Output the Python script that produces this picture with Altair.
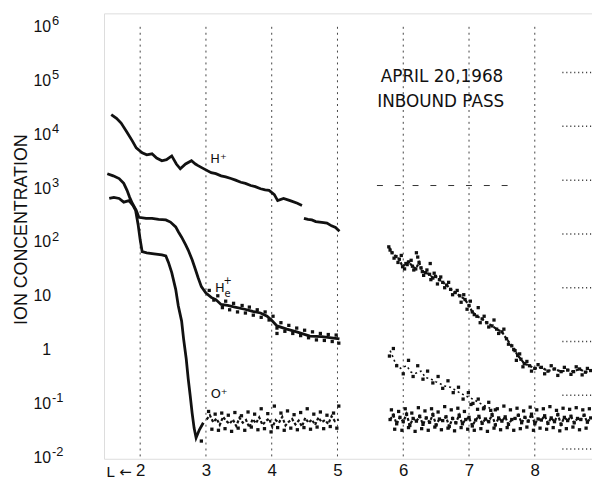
import altair as alt
import pandas as pd

FONT = "Liberation Sans"
NOTE_FONT = "DejaVu Sans"
INK = "#111111"

# ---- H+ (log10 concentration vs L) ----
HP1_L = [1.56,1.64,1.71,1.79,1.88,1.94,2.03,2.10,2.18,2.25,2.33,2.40,2.48,2.55,2.61,2.69,2.78,2.84,2.88,2.97,
         3.08,3.15,3.23,3.30,3.38,3.45,3.53,3.60,3.68,3.75,3.83,3.90,3.96,4.04,4.09,4.18,4.28,4.39,4.46]
HP1_LOG = [4.37,4.30,4.21,4.06,3.88,3.75,3.66,3.62,3.64,3.56,3.51,3.53,3.60,3.45,3.36,3.45,3.51,3.45,3.42,3.36,
           3.29,3.27,3.23,3.21,3.18,3.15,3.11,3.09,3.05,3.03,2.99,2.97,2.96,2.88,2.77,2.81,2.77,2.72,2.68]
HP2_L = [4.49,4.55,4.61,4.67,4.73,4.79,4.84,4.91,4.97,5.03]
HP2_LOG = [2.44,2.42,2.41,2.38,2.37,2.36,2.35,2.30,2.27,2.20]
HP3_L = [5.78,5.83,5.89,5.94,5.99,6.04,6.08,6.14,6.19,6.24,6.29,6.34,6.40,6.45,6.49,6.55,6.60,6.66,6.72,6.79,
         6.86,6.94,7.00,7.05,7.12,7.20,7.27,7.35,7.42,7.50,7.57,7.65,7.70,7.74,7.79,7.84,7.92,8.00,8.10,8.20,
         8.30,8.40,8.50,8.59,8.68,8.77,8.85]
HP3_LOG = [1.91,1.80,1.73,1.68,1.54,1.60,1.63,1.55,1.50,1.62,1.45,1.43,1.40,1.33,1.36,1.30,1.25,1.20,1.12,1.06,
           1.00,0.93,0.82,0.70,0.62,0.57,0.50,0.44,0.38,0.33,0.20,0.07,-0.02,-0.11,-0.18,-0.26,-0.30,-0.35,-0.33,-0.40,
           -0.36,-0.41,-0.38,-0.41,-0.36,-0.42,-0.39]
HP3S_L = [5.80,5.86,5.92,5.97,6.02,6.06,6.12,6.16,6.22,6.27,6.31,6.36,6.42,6.47,6.52,6.57,6.63,6.69,6.75,6.82,
          6.88,6.92,6.97,7.02,7.08,7.14,7.17,7.23,7.30,7.38,7.45,7.53,7.60,7.68,7.72,7.77,7.82,7.88,7.95,8.05,
          8.15,8.25,8.35,8.45,8.55,8.63,8.72,8.80,6.41,6.20]
HP3S_LOG = [1.85,1.70,1.62,1.75,1.50,1.58,1.66,1.48,1.72,1.52,1.38,1.48,1.30,1.42,1.22,1.35,1.15,1.25,1.02,1.10,
            0.88,1.02,0.75,0.90,0.65,0.78,0.50,0.62,0.42,0.55,0.30,0.38,0.10,0.00,-0.20,-0.08,-0.32,-0.22,-0.40,-0.28,
            -0.45,-0.30,-0.48,-0.33,-0.46,-0.32,-0.47,-0.35,1.60,1.80]

# ---- He+ ----
HE1_L = [1.50,1.59,1.68,1.75,1.80,1.84,1.88,1.94,1.98,2.09,2.18,2.28,2.39,2.46,2.54,2.58,2.63,2.69,2.73,2.79,
         2.84,2.88,2.93,3.00,3.08,3.15,3.23,3.33,3.44,3.59,3.71,3.83,3.93,4.01,4.08,4.23,4.38,4.58,4.76,4.91,5.03]
HE1_LOG = [3.27,3.23,3.18,3.09,2.96,2.83,2.72,2.59,2.46,2.44,2.44,2.42,2.41,2.37,2.28,2.19,2.09,1.95,1.85,1.67,
           1.49,1.34,1.17,1.05,0.97,0.93,0.84,0.82,0.79,0.75,0.71,0.68,0.62,0.53,0.44,0.38,0.33,0.25,0.24,0.22,0.20]
HE1S_L = [3.05,3.12,3.18,3.25,3.30,3.36,3.42,3.48,3.55,3.60,3.66,3.72,3.78,3.84,3.90,3.96,4.02,4.08,4.14,4.20,
          4.26,4.32,4.38,4.44,4.50,4.56,4.62,4.68,4.74,4.80,4.86,4.92,4.98,5.02,4.08]
HE1S_LOG = [1.10,0.92,1.00,0.78,0.90,0.74,0.86,0.70,0.82,0.68,0.79,0.64,0.74,0.60,0.70,0.55,0.62,0.40,0.50,0.34,
            0.45,0.30,0.40,0.26,0.36,0.22,0.33,0.18,0.30,0.17,0.28,0.15,0.27,0.12,0.30]
HE2_L = [5.80,5.83,5.88,5.96,6.05,6.12,6.19,6.27,6.34,6.41,6.50,6.57,6.64,6.72,6.80,6.87,6.95,7.02,7.09,7.17,7.25,7.32]
HE2_LOG = [-0.02,-0.10,-0.25,-0.35,-0.30,-0.42,-0.44,-0.40,-0.52,-0.54,-0.60,-0.64,-0.68,-0.70,-0.76,-0.81,-0.86,-0.90,-0.94,-1.00,-1.05,-1.09]
HE2S_L = [5.79,5.85,5.90,6.00,6.08,6.15,6.22,6.30,6.37,6.45,6.53,6.60,6.68,6.76,6.84,6.91,6.99,7.06,7.14,7.22,7.30,7.40]
HE2S_LOG = [-0.12,0.02,-0.30,-0.45,-0.20,-0.50,-0.30,-0.55,-0.40,-0.62,-0.50,-0.72,-0.58,-0.80,-0.70,-0.92,-0.80,-1.00,-0.92,-1.10,-0.98,-1.12]

# ---- O+ ----
OP1_L = [1.53,1.60,1.68,1.75,1.83,1.89,1.93,1.97,2.00,2.03,2.10,2.21,2.33,2.39,2.43,2.48,2.54,2.58,2.63,2.66,
         2.70,2.73,2.76,2.79,2.82,2.85,2.90,2.96]
OP1_LOG = [2.81,2.83,2.81,2.74,2.77,2.68,2.59,2.31,2.04,1.82,1.80,1.78,1.76,1.74,1.62,1.43,1.12,0.81,0.53,0.20,
           -0.17,-0.54,-0.85,-1.18,-1.46,-1.64,-1.49,-1.36]
OP2_L = [3.01,3.06,3.11,3.16,3.21,3.26,3.31,3.36,3.41,3.46,3.51,3.56,3.61,3.66,3.71,3.76,3.81,3.86,3.91,3.96,
         4.01,4.06,4.11,4.16,4.21,4.26,4.31,4.36,4.41,4.46,4.51,4.56,4.61,4.66,4.71,4.76,4.81,4.86,4.91,4.96,5.02]
OP2_LOG = [-1.30,-1.22,-1.35,-1.28,-1.40,-1.25,-1.33,-1.38,-1.30,-1.42,-1.27,-1.36,-1.31,-1.45,-1.29,-1.37,-1.26,-1.40,-1.33,-1.28,
           -1.44,-1.31,-1.36,-1.25,-1.41,-1.34,-1.29,-1.39,-1.32,-1.43,-1.27,-1.36,-1.30,-1.40,-1.26,-1.35,-1.31,-1.38,-1.24,-1.33,-1.30]
OP2S_L = [3.04,3.09,3.14,3.19,3.24,3.29,3.34,3.39,3.44,3.49,3.54,3.59,3.64,3.69,3.74,3.79,3.84,3.89,3.94,3.99,
          4.04,4.09,4.14,4.19,4.24,4.29,4.34,4.39,4.44,4.49,4.54,4.59,4.64,4.69,4.74,4.79,4.84,4.89,4.94,4.99,5.02,2.93]
OP2S_LOG = [-1.15,-1.48,-1.20,-1.50,-1.18,-1.47,-1.22,-1.52,-1.17,-1.46,-1.23,-1.50,-1.16,-1.44,-1.20,-1.49,-1.10,-1.47,-1.19,-1.53,
            -1.05,-1.45,-1.18,-1.50,-1.14,-1.46,-1.21,-1.49,-1.17,-1.45,-1.10,-1.48,-1.20,-1.44,-1.16,-1.47,-1.22,-1.43,-1.18,-1.46,-1.05,-1.70]
OP3_L = [5.80,5.85,5.90,5.95,6.00,6.05,6.10,6.15,6.20,6.25,6.30,6.35,6.40,6.45,6.50,6.55,6.60,6.65,6.70,6.75,
         6.80,6.85,6.90,6.95,7.00,7.05,7.10,7.15,7.20,7.25,7.30,7.35,7.40,7.45,7.50,7.55,7.60,7.65,7.70,7.75,
         7.80,7.85,7.90,7.95,8.00,8.05,8.10,8.15,8.20,8.25,8.30,8.35,8.40,8.45,8.50,8.55,8.60,8.65,8.70,8.75,8.80,8.85]
OP3_LOG = [-1.30,-1.22,-1.38,-1.26,-1.34,-1.20,-1.41,-1.28,-1.33,-1.24,-1.39,-1.27,-1.35,-1.21,-1.40,-1.29,-1.32,-1.25,-1.43,-1.28,
           -1.36,-1.22,-1.38,-1.30,-1.26,-1.42,-1.31,-1.24,-1.37,-1.29,-1.34,-1.21,-1.40,-1.27,-1.33,-1.25,-1.39,-1.30,-1.28,-1.22,
           -1.36,-1.26,-1.33,-1.20,-1.38,-1.29,-1.31,-1.23,-1.37,-1.27,-1.34,-1.21,-1.39,-1.26,-1.32,-1.24,-1.36,-1.28,-1.30,-1.22,-1.35,-1.27]
OP3S_L = [5.82,5.87,5.93,5.98,6.03,6.08,6.13,6.18,6.23,6.28,6.33,6.38,6.43,6.48,6.53,6.58,6.63,6.68,6.73,6.78,
          6.83,6.88,6.93,6.98,7.03,7.08,7.13,7.18,7.23,7.28,7.33,7.38,7.43,7.48,7.53,7.58,7.63,7.68,7.73,7.78,
          7.83,7.88,7.93,7.98,8.03,8.08,8.13,8.18,8.23,8.28,8.33,8.38,8.43,8.48,8.53,8.58,8.63,8.68,8.73,8.78,8.83]
OP3S_LOG = [-1.12,-1.48,-1.15,-1.50,-1.10,-1.45,-1.18,-1.52,-1.08,-1.47,-1.14,-1.50,-1.10,-1.44,-1.16,-1.49,-1.06,-1.46,-1.12,-1.51,
            -1.09,-1.45,-1.15,-1.48,-1.02,-1.50,-1.11,-1.47,-1.08,-1.52,-1.13,-1.46,-1.10,-1.49,-1.05,-1.45,-1.12,-1.50,-1.09,-1.47,
            -1.14,-1.44,-1.07,-1.50,-1.12,-1.46,-1.10,-1.48,-1.06,-1.45,-1.13,-1.51,-1.09,-1.47,-1.11,-1.44,-1.08,-1.49,-1.12,-1.46,-1.10]

# axis / grid values
X_TICKS = [2, 3, 4, 5, 6, 7, 8]
Y_DECADES = [-2, -1, 0, 1, 2, 3, 4, 5, 6]
RIGHT_TICK_LOG = [5.15, 4.15, 3.15, 2.15, 1.15, 0.15, -0.85, -1.85]

# annotations: (L, log10 conc, text, font size)
NOTES = [
    (6.59, 5.07, "APRIL 20,1968", 17),
    (6.57, 4.61, "INBOUND PASS", 17),
    (3.19, 3.55, "H⁺", 13),
    (3.21, 1.14, "H", 13),
    (3.33, 1.27, "+", 10),
    (3.33, 1.03, "e", 10),
    (3.20, -0.83, "O⁺", 13),
]
AXIS_NOTE = (1.87, -2.27, "L ←", 15)


def frame(Ls, logs, name):
    pairs = list(zip(Ls, logs))
    return pd.DataFrame({"L": [p[0] for p in pairs], "conc": [10 ** p[1] for p in pairs], "seg": name})


Y_MIN_LOG = -2.03
Y_DOMAIN = [10 ** Y_MIN_LOG, 10 ** 6.25]
X = alt.X("L:Q", scale=alt.Scale(domain=[1.45, 8.87], nice=False, zero=False),
          axis=alt.Axis(values=X_TICKS, grid=False, domain=False, ticks=False, labelFont=FONT,
                        labelFontSize=17, labelColor=INK, labelPadding=4, labelAngle=0, title=None))
base_expr = "datum.value >= 0.5 && datum.value < 5 ? '1' : '10'"
Y = alt.Y("conc:Q", scale=alt.Scale(type="log", domain=Y_DOMAIN, nice=False),
          axis=alt.Axis(values=[10.0 ** k for k in Y_DECADES], labelExpr=base_expr, grid=False, domain=False,
                        ticks=False, labelFont=FONT, labelFontSize=16, labelColor=INK, labelAlign="right",
                        labelBaseline="middle", labelPadding=54, labelOverlap=False,
                        title="ION CONCENTRATION", titleFont=FONT, titleFontSize=18, titleFontWeight="normal",
                        titleColor=INK, titleX=-83, titleY=218, titleAlign="center", titleBaseline="middle"))
exp_expr = ("datum.value >= 5e5 ? '6' : datum.value >= 5e4 ? '5' : datum.value >= 5e3 ? '4' : "
            "datum.value >= 500 ? '3' : datum.value >= 50 ? '2' : datum.value >= 0.5 ? '' : "
            "datum.value >= 0.05 ? '-1' : '-2'")
Y_EXP = alt.Y("conc:Q", scale=alt.Scale(type="log", domain=Y_DOMAIN, nice=False),
              axis=alt.Axis(orient="left", values=[10.0 ** k for k in Y_DECADES], labelExpr=exp_expr, grid=False,
                            domain=False, ticks=False, labelFont=FONT, labelFontSize=13, labelColor=INK,
                            labelAlign="left", labelBaseline="middle", labelPadding=53, labelOffset=-6,
                            labelOverlap=False, title=None))

grid_df = pd.DataFrame({"L": X_TICKS, "conc": [1e6] * len(X_TICKS), "conc2": [1e-2] * len(X_TICKS)})
grid = alt.Chart(grid_df).mark_rule(color="#444444", strokeWidth=1, strokeDash=[2, 4]).encode(
    x=X, y=Y, y2="conc2:Q")

exp_df = pd.DataFrame({"L": [2.0] * len(Y_DECADES), "conc": [10.0 ** k for k in Y_DECADES]})
exp_layer = alt.Chart(exp_df).mark_point(opacity=0).encode(x=X, y=Y_EXP)

hline_df = pd.DataFrame({"L": [5.6], "L2": [7.6], "conc": [10 ** 3.05]})
hline = alt.Chart(hline_df).mark_rule(color="#333333", strokeWidth=1, strokeDash=[6, 12]).encode(
    x=X, x2="L2:Q", y=Y)

rt_df = pd.DataFrame({"L": [8.42] * len(RIGHT_TICK_LOG), "L2": [8.87] * len(RIGHT_TICK_LOG),
                      "conc": [10 ** v for v in RIGHT_TICK_LOG]})
rticks = alt.Chart(rt_df).mark_rule(color="#222222", strokeWidth=1.5, strokeDash=[1, 3]).encode(
    x=X, x2="L2:Q", y=Y)

solid_df = pd.concat([frame(HP1_L, HP1_LOG, "hp1"), frame(HP2_L, HP2_LOG, "hp2"),
                      frame(HE1_L, HE1_LOG, "he1"), frame(OP1_L, OP1_LOG, "op1")])
solid = alt.Chart(solid_df).mark_line(color=INK, strokeWidth=2.8, interpolate="linear").encode(
    x=X, y=Y, detail="seg:N", order="L:Q")

noisy_df = pd.concat([frame(HP3_L, HP3_LOG, "hp3"), frame(OP2_L, OP2_LOG, "op2"),
                      frame(OP3_L, OP3_LOG, "op3")])
noisy = alt.Chart(noisy_df).mark_line(color=INK, strokeWidth=2.2, strokeDash=[3, 2]).encode(
    x=X, y=Y, detail="seg:N", order="L:Q")

faint_df = frame(HE2_L, HE2_LOG, "he2")
faint = alt.Chart(faint_df).mark_line(color=INK, strokeWidth=1.6, strokeDash=[2, 3]).encode(
    x=X, y=Y, detail="seg:N", order="L:Q")

pts_df = pd.concat([frame(HP3S_L, HP3S_LOG, "a"), frame(HE1S_L, HE1S_LOG, "b"), frame(HE2S_L, HE2S_LOG, "c"),
                    frame(OP2S_L, OP2S_LOG, "d"), frame(OP3S_L, OP3S_LOG, "e"),
                    frame(OP3_L, OP3_LOG, "f"), frame(HP3_L, HP3_LOG, "g")])
pts = alt.Chart(pts_df).mark_square(color=INK, size=11, opacity=1).encode(x=X, y=Y)

notes_df = pd.DataFrame({"L": [n[0] for n in NOTES], "conc": [10 ** n[1] for n in NOTES],
                         "txt": [n[2] for n in NOTES], "fs": [n[3] for n in NOTES]})
notes = alt.Chart(notes_df).mark_text(font=NOTE_FONT, color=INK, align="center", baseline="middle").encode(
    x=X, y=Y, text="txt:N", size=alt.Size("fs:Q", scale=None))

axnote_df = pd.DataFrame({"L": [AXIS_NOTE[0]], "conc": [10 ** AXIS_NOTE[1]], "txt": [AXIS_NOTE[2]]})
axnote = alt.Chart(axnote_df).mark_text(font=NOTE_FONT, color=INK, align="right", baseline="middle",
                                        fontSize=AXIS_NOTE[3]).encode(x=X, y=Y, text="txt:N")

main = alt.layer(grid, hline, rticks, solid, noisy, faint, pts, notes, axnote)
chart = alt.layer(main, exp_layer).resolve_scale(y="independent").resolve_axis(y="independent").properties(
    width=493, height=450,
    autosize=alt.AutoSizeParams(type="none"),
    padding={"left": 97, "top": 3, "right": 0, "bottom": 20},
).configure_view(stroke=None).configure(background="white")

chart.save("out.html", embed_options={"renderer": "svg", "actions": False})
